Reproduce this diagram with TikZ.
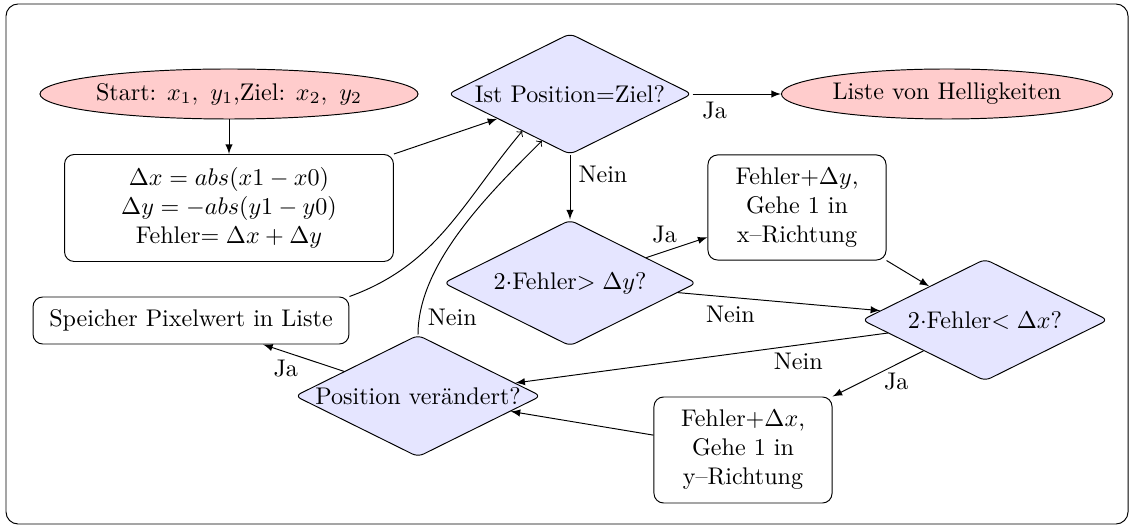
\documentclass[tikz,border=0pt]{standalone}
\usetikzlibrary{shapes.geometric,calc,arrows}
\begin{document}
\begin{tikzpicture}[x=0.415pt,y=-0.415pt,
  term/.style={ellipse,draw,fill=red!20,inner sep=0pt},
  proc/.style={rectangle,draw,rounded corners=4pt,align=center,inner sep=2pt},
  dec/.style={diamond,aspect=2,draw,fill=blue!10,rounded corners=2.5pt,inner sep=-3pt,align=center},
  arr/.style={-latex},
  oarr/.style={->}]
\useasboundingbox (0,0) rectangle (1134,527);
\draw[rounded corners=5pt] (6,4) rectangle (1128,524);

\node[term,minimum width=156.9pt,minimum height=20.75pt] (start) at (229,94) {Start: $x_1,\ y_1$,Ziel: $x_2,\ y_2$};
\node[term,minimum width=137.4pt,minimum height=20.75pt] (liste) at (947,94) {Liste von Helligkeiten};
\node[proc,minimum width=136.5pt,minimum height=44.4pt] (init) at (229,208) {$\Delta x = abs(x1-x0)$\\ $\Delta y = -abs(y1-y0)$\\ Fehler$= \Delta x + \Delta y$};
\node[dec,minimum width=101.3pt,minimum height=50.2pt] (ist) at (570,94) {Ist Position=Ziel?};
\node[proc,minimum width=73.9pt,minimum height=43.6pt] (fy) at (797,207.5) {Fehler$+\Delta y$,\\ Gehe 1 in\\ x--Richtung};
\node[dec,minimum width=105pt,minimum height=52.3pt] (dy) at (570,283) {2$\cdot$Fehler$> \Delta y$?};
\node[dec,minimum width=102.1pt,minimum height=50.6pt] (dx) at (985,320) {2$\cdot$Fehler$< \Delta x$?};
\node[proc,minimum width=131.1pt,minimum height=19.5pt] (speicher) at (191,320.5) {Speicher Pixelwert in Liste};
\node[dec,minimum width=102.1pt,minimum height=50.6pt] (pos) at (418,396) {Position verändert?};
\node[proc,minimum width=73.9pt,minimum height=44pt] (fx) at (743,450) {Fehler$+\Delta x$,\\ Gehe 1 in\\ y--Richtung};

\coordinate (istA) at ($(ist.south)!0.39!(ist.west)$);
\coordinate (istB) at ($(ist.south)!0.23!(ist.west)$);

\draw[arr] (start) -- (init);
\draw[arr] (init.north east) -- (ist);
\draw[arr] (ist) -- node[below,pos=0.25] {Ja} (liste);
\draw[arr] (ist) -- node[right,pos=0.3] {Nein} (dy);
\draw[arr] (dy) -- node[above,pos=0.3] {Ja} (fy);
\draw[arr] (fy.south east) -- (dx);
\draw[arr] (dy) -- node[below,pos=0.26] {Nein} (dx);
\draw[arr] (dx) -- node[below,pos=0.24] {Nein} (pos);
\draw[arr] (dx) -- node[below,pos=0.3] {Ja} (fx.north east);
\draw[arr] (fx) -- (pos);
\draw[arr] (pos) -- node[below,pos=0.72] {Ja} (speicher);
\draw[oarr] (speicher.north east) to[out=20,in=-130] (istA);
\draw[oarr] (pos.north) to[out=90,in=-135,looseness=0.8] node[right,pos=0.08] {Nein} (istB);
\end{tikzpicture}
\end{document}
